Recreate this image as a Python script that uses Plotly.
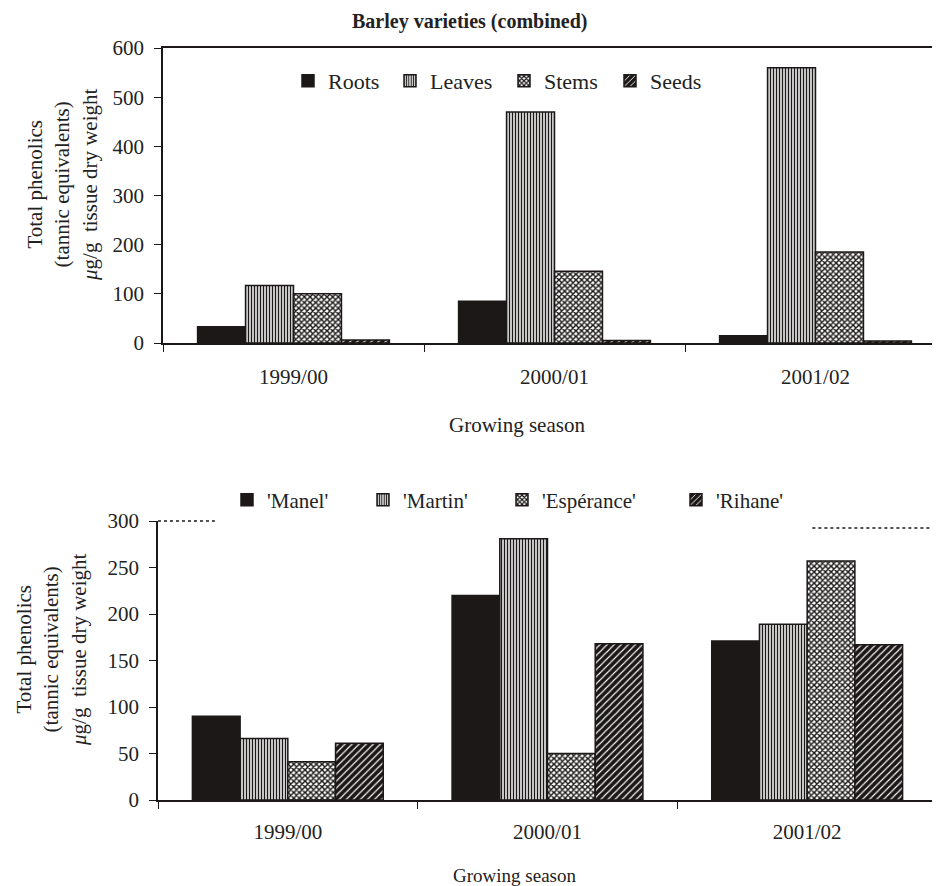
import plotly.graph_objects as go

seasons = ["1999/00", "2000/01", "2001/02"]

# Top chart: plant parts (combined varieties)
parts = ["Roots", "Leaves", "Stems", "Seeds"]
roots = [33, 85, 15]
leaves = [117, 470, 560]
stems = [100, 146, 185]
seeds = [6, 5, 4]
top_values = [roots, leaves, stems, seeds]

# Bottom chart: varieties
varieties = ["'Manel'", "'Martin'", "'Espérance'", "'Rihane'"]
manel = [90, 220, 171]
martin = [66, 281, 189]
esperance = [41, 50, 257]
rihane = [61, 168, 167]
bottom_values = [manel, martin, esperance, rihane]

FONT = "Liberation Serif"
INK = "#1c1818"
TXT = "#222"

patterns = [
    dict(shape="", fillmode="replace"),
    dict(shape="|", fgcolor=INK, bgcolor="white", size=3, solidity=0.5, fillmode="replace"),
    dict(shape="x", fgcolor=INK, bgcolor="white", size=4, solidity=0.6, fillmode="replace"),
    dict(shape="/", fgcolor="white", bgcolor=INK, size=5, solidity=0.22, fillmode="replace"),
]
colors = [INK, "white", "white", INK]

OFF = 8  # page body margin
W, H = 932, 878


def fx(px):
    return (px - OFF) / W


def fy(py):
    return 1 - (py - OFF) / H


top_leg_x = [310, 412, 526, 632]
bot_leg_x = [249, 385, 524, 698]

fig = go.Figure()
legend_defs = {}
n = 1
for i, (name, vals, pat, col) in enumerate(zip(parts, top_values, patterns, colors)):
    lid = "legend" if n == 1 else f"legend{n}"
    fig.add_trace(go.Bar(
        x=seasons, y=vals, name=name, xaxis="x", yaxis="y",
        marker=dict(color=col, pattern=pat, line=dict(color=INK, width=1.5)),
        legend=lid,
    ))
    legend_defs[lid] = dict(x=fx(top_leg_x[i] - 22), y=fy(81), size=22)
    n += 1

for i, (name, vals, pat, col) in enumerate(zip(varieties, bottom_values, patterns, colors)):
    lid = f"legend{n}"
    fig.add_trace(go.Bar(
        x=seasons, y=vals, name=name, xaxis="x2", yaxis="y2",
        marker=dict(color=col, pattern=pat, line=dict(color=INK, width=1.5)),
        legend=lid,
    ))
    legend_defs[lid] = dict(x=fx(bot_leg_x[i] - 22), y=fy(500), size=21)
    n += 1

axis_common = dict(
    showline=True, linecolor=INK, linewidth=1.5,
    ticks="outside", tickcolor=INK, ticklen=7, tickwidth=1.2,
    showgrid=False, zeroline=False, automargin=False,
    tickfont=dict(family=FONT, size=21, color=TXT),
)

layout_legends = {}
for lid, d in legend_defs.items():
    layout_legends[lid] = dict(
        orientation="h", x=d["x"], y=d["y"], xanchor="left", yanchor="middle",
        font=dict(family=FONT, size=d["size"], color=TXT), bgcolor="rgba(0,0,0,0)",
        borderwidth=0,
    )

fig.update_layout(
    template="none",
    width=W, height=H,
    paper_bgcolor="white", plot_bgcolor="white",
    margin=dict(l=0, r=0, t=0, b=0, autoexpand=False),
    barmode="group", bargap=0.265, bargroupgap=0,
    font=dict(family=FONT, color=TXT),
    xaxis=dict(**axis_common, domain=[fx(163), 1.0], anchor="y",
               range=[-0.5, 2.477], tickson="boundaries", mirror=True,
               ticklabelstandoff=14),
    yaxis=dict(**axis_common, domain=[fy(343), fy(48)], anchor="x",
               range=[0, 600], dtick=100, ticklabelstandoff=6),
    xaxis2=dict(**axis_common, domain=[fx(158), fx(937)], anchor="y2",
                range=[-0.5, 2.5], tickson="boundaries", ticklabelstandoff=12),
    yaxis2=dict(**axis_common, domain=[fy(800), fy(521)], anchor="x2",
                range=[0, 300], dtick=50, ticklabelstandoff=6),
    showlegend=True,
    **layout_legends,
)

# Bottom chart frame: right edge and partial top edge
fig.add_shape(type="line", xref="x2 domain", yref="y2 domain", x0=1, x1=1, y0=0, y1=0.975,
              line=dict(color=INK, width=1.5))
fig.add_shape(type="line", xref="x2 domain", yref="y2 domain", x0=0, x1=0.073, y0=1, y1=1,
              line=dict(color=INK, width=1.5, dash="dot"))
fig.add_shape(type="line", xref="x2 domain", yref="y2 domain", x0=0.84, x1=1, y0=0.975, y1=0.975,
              line=dict(color=INK, width=1.5, dash="dot"))

# Title
fig.add_annotation(text="<b>Barley varieties (combined)</b>", xref="paper", yref="paper",
                   x=fx(470), y=fy(21), xanchor="center", yanchor="middle", showarrow=False,
                   font=dict(family=FONT, size=20, color=TXT))

# X-axis titles
fig.add_annotation(text="Growing season", xref="paper", yref="paper",
                   x=fx(517), y=fy(425), xanchor="center", yanchor="middle", showarrow=False,
                   font=dict(family=FONT, size=21, color=TXT))
fig.add_annotation(text="Growing season", xref="paper", yref="paper",
                   x=fx(515), y=fy(875), xanchor="center", yanchor="middle", showarrow=False,
                   font=dict(family=FONT, size=19, color=TXT))

# Y-axis titles
ytitle = "Total phenolics<br>(tannic equivalents)<br><i>μ</i>g/g  tissue dry weight"
fig.add_annotation(text=ytitle, xref="paper", yref="paper", x=fx(63), y=fy(185),
                   xanchor="center", yanchor="middle",
                   textangle=-90, showarrow=False, align="center",
                   font=dict(family=FONT, size=21, color=TXT))
fig.add_annotation(text=ytitle, xref="paper", yref="paper", x=fx(51), y=fy(650),
                   xanchor="center", yanchor="middle",
                   textangle=-90, showarrow=False, align="center",
                   font=dict(family=FONT, size=21, color=TXT))

fig.write_html("out.html")
